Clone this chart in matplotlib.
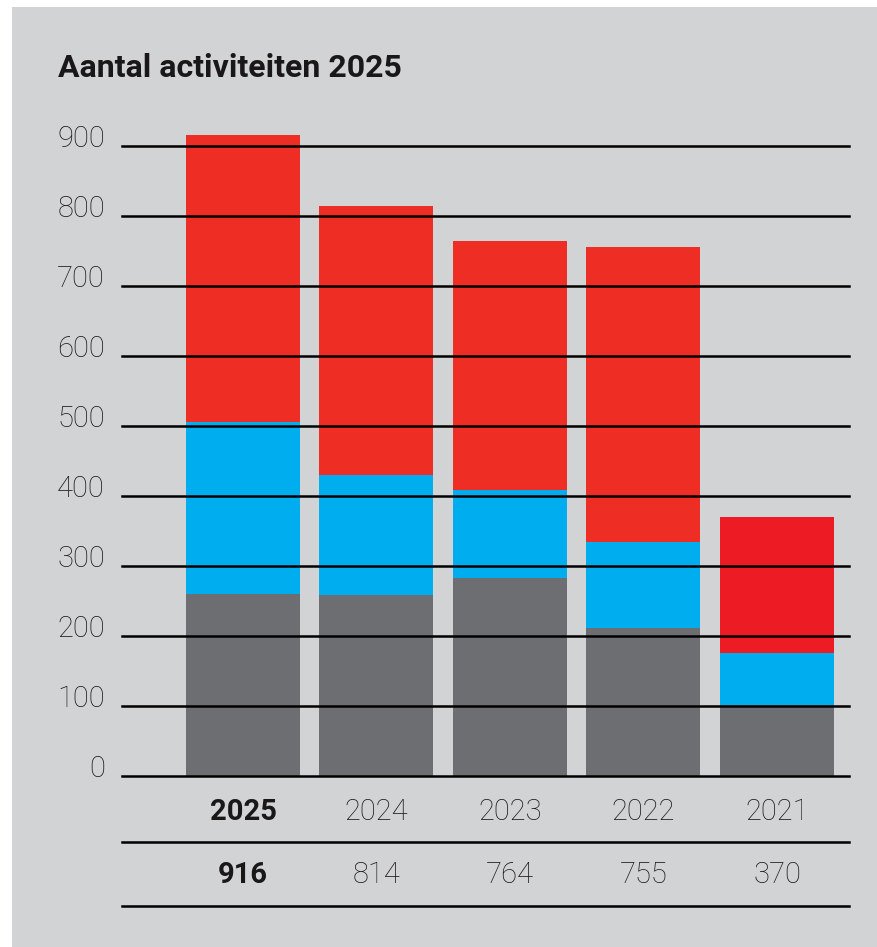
import matplotlib
matplotlib.use("Agg")
import matplotlib.pyplot as plt
import matplotlib.transforms as mtransforms
from matplotlib.patches import Rectangle

# data
years = ["2025", "2024", "2023", "2022", "2021"]
gray_vals = [260, 259, 283, 211, 101]
blue_vals = [246, 171, 126, 123, 75]
red_vals = [410, 384, 355, 421, 194]
totals = [916, 814, 764, 755, 370]
yticks = [0, 100, 200, 300, 400, 500, 600, 700, 800, 900]

BG = "#d1d3d4"
GRAY = "#6d6e71"
BLUE = "#00aeef"
RED = "#ee2e24"
RED_2021 = "#ed1c24"
INK = "#1a1718"

W, H = 877, 947
fig = plt.figure(figsize=(W / 100, H / 100), dpi=100, facecolor="white")
fig.patches.append(Rectangle((12 / W, 0), 1 - 12 / W, 1 - 7 / H,
                             transform=fig.transFigure, facecolor=BG,
                             edgecolor="none", zorder=-10))

plt.rcParams["font.family"] = ["Roboto", "DejaVu Sans"]

# axes: y=0 at px 776, 70 px per 100
left, right = 122, 849
y0_px = 776
ymax = 950
top_px = y0_px - ymax * 0.7
ax = fig.add_axes([left / W, (H - y0_px) / H, (right - left) / W, (y0_px - top_px) / H])
ax.set_facecolor("none")
ax.set_ylim(0, ymax)
step = 133.5
x0 = (243 - left) / step
ax.set_xlim(-x0, -x0 + (right - left) / step)
for s in ax.spines.values():
    s.set_visible(False)
ax.set_xticks([])
ax.set_yticks([])

xs = list(range(len(years)))
bw = 114 / step
reds = [RED] * (len(years) - 1) + [RED_2021]
ax.bar(xs, gray_vals, width=bw, color=GRAY, zorder=1)
ax.bar(xs, blue_vals, width=bw, bottom=gray_vals, color=BLUE, zorder=1)
bottoms = [g + b for g, b in zip(gray_vals, blue_vals)]
ax.bar(xs, red_vals, width=bw, bottom=bottoms, color=reds, zorder=1)

# grid lines drawn over the bars
blend = mtransforms.blended_transform_factory(ax.transAxes, ax.transData)
for v in yticks:
    ax.axhline(v, color="black", lw=1.8, zorder=3, clip_on=False)
    ax.text(-17 / (right - left), v - 2, str(v), transform=blend, ha="right",
            va="baseline", fontsize=21, fontweight="light", color=INK)

# table below the chart
def px_to_val(py):
    return (y0_px - py) / 0.7

for yline in (842, 906):
    ax.axhline(px_to_val(yline), color="black", lw=1.8, zorder=3, clip_on=False)

for i, (yr, tot) in enumerate(zip(years, totals)):
    w = "bold" if i == 0 else "light"
    ax.text(i, px_to_val(812), yr, ha="center", va="center", fontsize=21,
            fontweight=w, color=INK, clip_on=False)
    ax.text(i, px_to_val(875), str(tot), ha="center", va="center", fontsize=21,
            fontweight=w, color=INK, clip_on=False)

fig.text(58 / W, 1 - 77 / H, "Aantal activiteiten 2025", ha="left",
         va="baseline", fontsize=23, fontweight="bold", color=INK)

fig.savefig("out.png", dpi=100, facecolor="white")
